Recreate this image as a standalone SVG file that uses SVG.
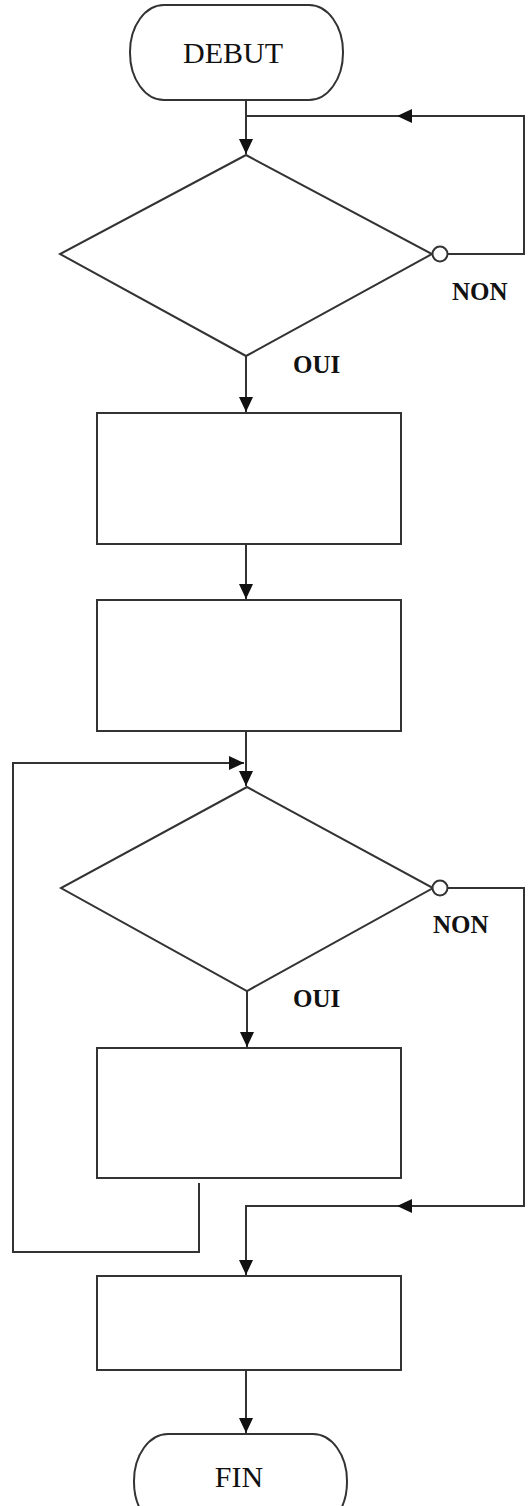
<svg xmlns="http://www.w3.org/2000/svg" width="528" height="1506" viewBox="0 0 528 1506">
<style>
.s{fill:#fff;stroke:#333;stroke-width:2}
.c{fill:none;stroke:#333;stroke-width:2}
.t{font-family:"Liberation Serif","Times New Roman",serif;font-size:30px;fill:#111;text-anchor:middle}
.l{font-family:"Liberation Serif","Times New Roman",serif;font-size:25px;font-weight:bold;fill:#111}
</style>
<defs>
<marker id="a" markerUnits="userSpaceOnUse" viewBox="0 0 15 14" refX="15" refY="7" markerWidth="15" markerHeight="14" orient="auto">
<path d="M0,0 L15,7 L0,14 z" fill="#111"/>
</marker>
</defs>
<g id="connectors">
<path class="c" d="M246,100 V154" marker-end="url(#a)"/>
<path class="c" d="M448,254 H524 V116 H397" marker-end="url(#a)"/>
<path class="c" d="M398,116 H246"/>
<path class="c" d="M246,356 V412" marker-end="url(#a)"/>
<path class="c" d="M246,544 V599" marker-end="url(#a)"/>
<path class="c" d="M246,731 V786" marker-end="url(#a)"/>
<path class="c" d="M199,1183 V1252 H13 V763 H244" marker-end="url(#a)"/>
<path class="c" d="M247,991 V1047" marker-end="url(#a)"/>
<path class="c" d="M448,888 H524 V1206 H397" marker-end="url(#a)"/>
<path class="c" d="M398,1206 H246 V1275" marker-end="url(#a)"/>
<path class="c" d="M246,1370 V1433" marker-end="url(#a)"/>
</g>
<g id="debut">
<rect class="s" x="130" y="5" width="213" height="95" rx="34" ry="47"/>
<text class="t" x="233" y="63">DEBUT</text>
</g>
<g id="decision1">
<polygon class="s" points="246,155 432,254 246,356 60,254"/>
<circle class="s" cx="440" cy="254" r="7.5"/>
<text class="l" x="452" y="300">NON</text>
<text class="l" x="293" y="373">OUI</text>
</g>
<g id="process1">
<rect class="s" x="97" y="413" width="304" height="131"/>
</g>
<g id="process2">
<rect class="s" x="97" y="600" width="304" height="131"/>
</g>
<g id="decision2">
<polygon class="s" points="247,787 433,888 247,991 61,888"/>
<circle class="s" cx="440" cy="888" r="7.5"/>
<text class="l" x="433" y="933">NON</text>
<text class="l" x="293" y="1007">OUI</text>
</g>
<g id="process3">
<rect class="s" x="97" y="1048" width="304" height="130"/>
</g>
<g id="process4">
<rect class="s" x="97" y="1276" width="304" height="94"/>
</g>
<g id="fin">
<rect class="s" x="134" y="1434" width="213" height="95" rx="34" ry="47"/>
<text class="t" x="239" y="1487">FIN</text>
</g>
</svg>
